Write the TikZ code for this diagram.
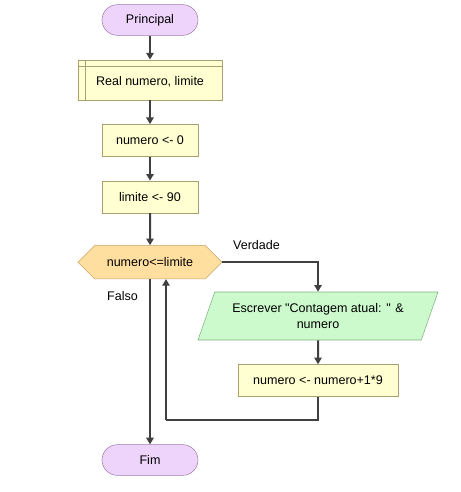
\documentclass[tikz,border=0pt]{standalone}
\usepackage{fontspec}
\setmainfont{Liberation Sans}
\usetikzlibrary{positioning,arrows.meta,calc,shapes.geometric,shapes.symbols}

\definecolor{termfill}{HTML}{EED3FA}
\definecolor{termline}{HTML}{9A7EA8}
\definecolor{procfill}{HTML}{FFFFD2}
\definecolor{procline}{HTML}{A8A070}
\definecolor{decfill}{HTML}{FFDFA0}
\definecolor{decline}{HTML}{C8A468}
\definecolor{iofill}{HTML}{CCFACC}
\definecolor{ioline}{HTML}{80B080}
\definecolor{flowline}{HTML}{404040}

\begin{document}
\begin{tikzpicture}[
    x=0.75pt, y=-0.75pt,
    font=\fontsize{9.4pt}{11.5pt}\selectfont,
    node distance=18pt,
    terminal/.style={draw=termline, fill=termfill, rounded corners=11.5pt, minimum width=72pt, minimum height=23pt},
    process/.style={draw=procline, fill=procfill, minimum width=72pt, minimum height=24pt},
    decision/.style={signal, signal to=west and east, signal pointer angle=90, draw=decline, fill=decfill, minimum width=108pt, minimum height=25pt},
    inout/.style={trapezium, trapezium left angle=63.4, trapezium right angle=116.6, trapezium stretches body, draw=ioline, fill=iofill, minimum width=180pt, minimum height=36pt, align=center},
    flow/.style={-{Triangle[length=5pt,width=5.5pt]}, draw=flowline, line width=1.5pt},
    plain/.style={draw=flowline, line width=1.5pt}
]
\useasboundingbox (0,0) rectangle (460,492);

\node[terminal] (start) at (150,20) {Principal};
\node[process, minimum width=108pt, minimum height=30pt, below=of start] (decl) {\strut\raisebox{-2pt}{Real numero, limite}};
\node[process, below=of decl] (init) {numero <- 0};
\node[process, below=of init] (lim) {limite <- 90};
\node[decision, below=24pt of lim] (test) {numero<=limite};
\node[inout] (write) at (318,316) {Escrever \textquotedbl Contagem atual: \textquotedbl{} \&\\numero};
\node[process, minimum width=120pt, below=of write] (incr) {numero <- numero+1*9};
\node[terminal] (stop) at (150,460) {Fim};
\coordinate (back) at (166,420);

% declaration box inner lines
\draw[procline] ($(decl.north west)+(8,0)$) -- ($(decl.south west)+(8,0)$);
\draw[procline] ($(decl.north west)+(0,7)$) -- ($(decl.north east)+(0,7)$);

\draw[flow] (start) -- (decl);
\draw[flow] (decl) -- (init);
\draw[flow] (init) -- (lim);
\draw[flow] (lim) -- (test);
\draw[flow] (test.east) -| node[pos=0, above right, xshift=4pt, yshift=5pt]{Verdade} (write.north);
\draw[flow] (write) -- (incr);
\draw[flow] (test.south) -- node[pos=0.1, left, xshift=-5pt]{Falso} (stop);
\draw[plain] (incr.south) |- (back);
\draw[flow] (back) -- (back |- test.south);
\end{tikzpicture}
\end{document}
